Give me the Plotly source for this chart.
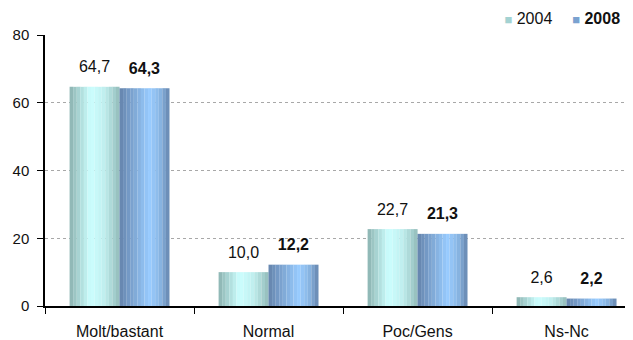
import plotly.graph_objects as go

categories = ["Molt/bastant", "Normal", "Poc/Gens", "Ns-Nc"]
values_2004 = [64.7, 10.0, 22.7, 2.6]
values_2008 = [64.3, 12.2, 21.3, 2.2]
y_ticks = [0, 20, 40, 60, 80]

FONT = "Liberation Sans, Arial, sans-serif"
BAR_W = 0.335
N_SLICES = 14
LABEL_PAD = 2.5  # gap between bar top and value label, in axis units


def hex_to_rgb(h):
    h = h.lstrip("#")
    return [int(h[i:i + 2], 16) for i in (0, 2, 4)]


def gradient(stops, t):
    # stops: list of (pos, hex)
    for (p0, c0), (p1, c1) in zip(stops, stops[1:]):
        if p0 <= t <= p1:
            f = (t - p0) / (p1 - p0) if p1 > p0 else 0
            a, b = hex_to_rgb(c0), hex_to_rgb(c1)
            rgb = [round(a[k] + (b[k] - a[k]) * f) for k in range(3)]
            return "rgb({},{},{})".format(*rgb)
    return stops[-1][1]


def fmt(v):
    return f"{v:.1f}".replace(".", ",")


series = [
    dict(name="2004", label="2004", values=values_2004, start=-BAR_W,
         stops=[(0, "#8cb2b0"), (0.42, "#ccffff"), (0.7, "#bfeeee"), (1, "#94bcba")],
         swatch="#a3d2d2", tmpl="%{text}", legend="legend", lx=0.879),
    dict(name="2008", label="<b>2008</b>", values=values_2008, start=0.0,
         stops=[(0, "#6584ac"), (0.6, "#99ccff"), (0.8, "#8bb8e6"), (1, "#6686ae")],
         swatch="#7aa2d0", tmpl="<b>%{text}</b>", legend="legend2", lx=0.989),
]

fig = go.Figure()

for s in series:
    step = BAR_W / N_SLICES
    for i in range(N_SLICES):
        t = (i + 0.5) / N_SLICES
        fig.add_trace(go.Bar(
            x=categories,
            y=s["values"],
            width=step * 1.02,
            offset=s["start"] + i * step,
            marker=dict(color=gradient(s["stops"], t), line=dict(width=0)),
            showlegend=False,
            hovertemplate="%{x}: %{y}<extra>" + s["name"] + "</extra>",
        ))
    # invisible spacer on top of each bar that carries the value label
    fig.add_trace(go.Bar(
        x=categories,
        y=[LABEL_PAD] * len(categories),
        base=s["values"],
        width=BAR_W,
        offset=s["start"],
        marker=dict(color="rgba(0,0,0,0)", line=dict(width=0)),
        text=[fmt(v) for v in s["values"]],
        texttemplate=s["tmpl"],
        textposition="outside",
        textfont=dict(size=16, color="#111111", family=FONT),
        cliponaxis=False,
        showlegend=False,
        hoverinfo="skip",
    ))
    # legend entry: small square drawn in the label text, marker hidden
    fig.add_trace(go.Scatter(
        x=[None], y=[None],
        mode="markers",
        marker=dict(symbol="square", size=0, opacity=0, color="rgba(0,0,0,0)",
                    line=dict(width=0)),
        name="<span style='font-size:13px;color:" + s["swatch"] + "'>■</span> " + s["label"],
        legend=s["legend"],
    ))

legend_common = dict(
    orientation="h",
    xref="container", xanchor="right",
    yref="container", y=0.97, yanchor="middle",
    font=dict(size=16),
    itemwidth=30,
    bgcolor="rgba(0,0,0,0)",
)

# page body keeps an 8px margin, so the figure is sized to fit the window
fig.update_layout(
    width=625,
    height=332,
    barmode="overlay",
    plot_bgcolor="white",
    paper_bgcolor="white",
    margin=dict(l=37, r=0, t=27, b=34, autoexpand=False),
    font=dict(family=FONT, size=15, color="#111111"),
    legend=dict(legend_common, x=series[0]["lx"]),
    legend2=dict(legend_common, x=series[1]["lx"]),
)

fig.update_xaxes(
    range=[-0.5, 3.446],
    showline=True, linecolor="black", linewidth=1.5,
    ticks="outside", tickson="boundaries", ticklen=6, tickcolor="black",
    showgrid=False,
    tickfont=dict(size=16),
    ticklabelstandoff=10,
    automargin=False,
)

fig.update_yaxes(
    range=[0, 80],
    tickvals=y_ticks,
    showline=True, linecolor="black", linewidth=1.5,
    ticks="outside", ticklen=6, tickcolor="black",
    showgrid=True, gridcolor="#a8a8a8", griddash="dot", gridwidth=1,
    zeroline=False,
    tickfont=dict(size=15),
    ticklabelstandoff=5,
    automargin=False,
)

fig.write_html("out.html")
